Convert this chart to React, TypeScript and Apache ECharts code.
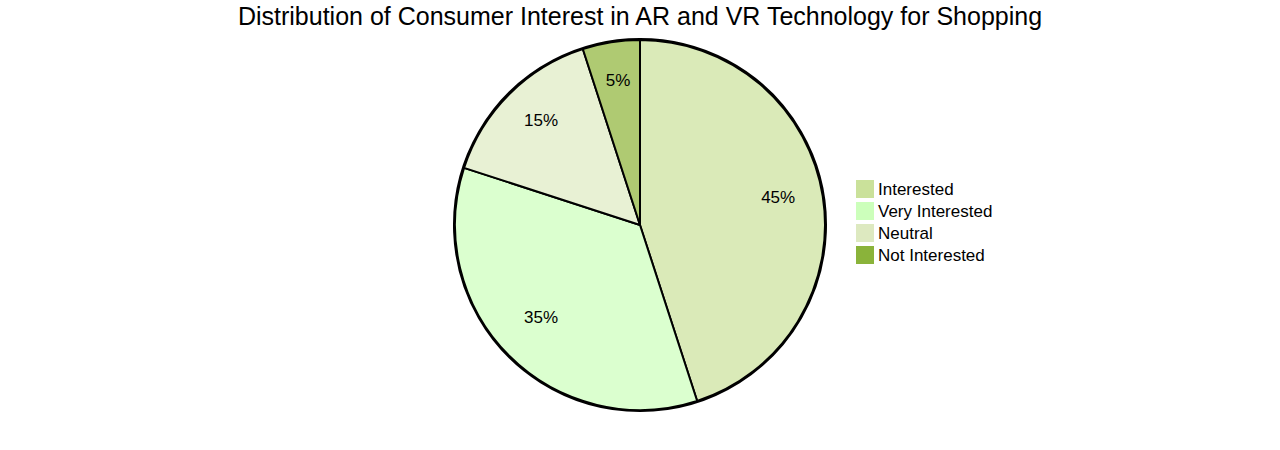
import React, { useEffect, useRef } from "react";
import * as echarts from "echarts";

const titleText = "Distribution of Consumer Interest in AR and VR Technology for Shopping";
const categories = ["Interested", "Very Interested", "Neutral", "Not Interested"];
const values = [45, 35, 15, 5];
const legendColors = ["#cae19a", "#ccffbb", "#dde9c0", "#8ab33a"];
const sliceColors = ["#daeab8", "#dbffcf", "#e8f1d4", "#afca72"];

export default function App() {
  const ref = useRef<HTMLDivElement>(null);
  useEffect(() => {
    document.body.style.margin = "0";
    const chart = echarts.init(ref.current!, null, { renderer: "svg" });
    const font = "'Liberation Sans', Arial, sans-serif";
    const R = 185;
    chart.setOption({
      animation: false,
      textStyle: { fontFamily: font },
      title: {
        text: titleText,
        left: "center",
        top: -2,
        textStyle: { fontSize: 25, fontWeight: "normal", color: "#000", fontFamily: font },
      },
      legend: {
        orient: "vertical",
        left: 856,
        top: 180,
        padding: 0,
        itemWidth: 18,
        itemHeight: 18,
        itemGap: 4,
        icon: "rect",
        selectedMode: false,
        textStyle: { fontSize: 17, color: "#000", fontFamily: font, padding: [0, 0, 0, -1] },
        data: categories.map((c, i) => ({
          name: c,
          itemStyle: { color: legendColors[i], borderWidth: 0, opacity: 1 },
        })),
      },
      series: [
        {
          type: "pie",
          center: [640, 225],
          radius: [0, R],
          startAngle: 90,
          clockwise: true,
          silent: true,
          label: { show: false },
          labelLine: { show: false },
          emphasis: { disabled: true },
          itemStyle: { borderColor: "#000", borderWidth: 2 },
          data: categories.map((c, i) => ({
            name: c,
            value: values[i],
            itemStyle: { color: sliceColors[i] },
          })),
        },
        {
          type: "pie",
          center: [640, 225],
          radius: [0, R + 1],
          silent: true,
          label: { show: false },
          labelLine: { show: false },
          emphasis: { disabled: true },
          itemStyle: { color: "rgba(0,0,0,0)", borderColor: "#000", borderWidth: 2 },
          data: [{ name: "__outer", value: 1 }],
          z: 3,
        },
        {
          type: "pie",
          center: [640, 219],
          radius: [0, R * 1.48],
          startAngle: 90,
          clockwise: true,
          silent: true,
          z: 4,
          itemStyle: { color: "rgba(0,0,0,0)", borderWidth: 0 },
          emphasis: { disabled: true },
          labelLine: { show: false },
          label: {
            show: true,
            position: "inside",
            formatter: (p: any) => `${Math.round(p.percent)}%`,
            fontSize: 17,
            color: "#000",
            fontFamily: font,
          },
          data: categories.map((c, i) => ({ name: c, value: values[i] })),
        },
      ],
    });
    return () => chart.dispose();
  }, []);
  return <div ref={ref} style={{ width: 1280, height: 450 }} />;
}
